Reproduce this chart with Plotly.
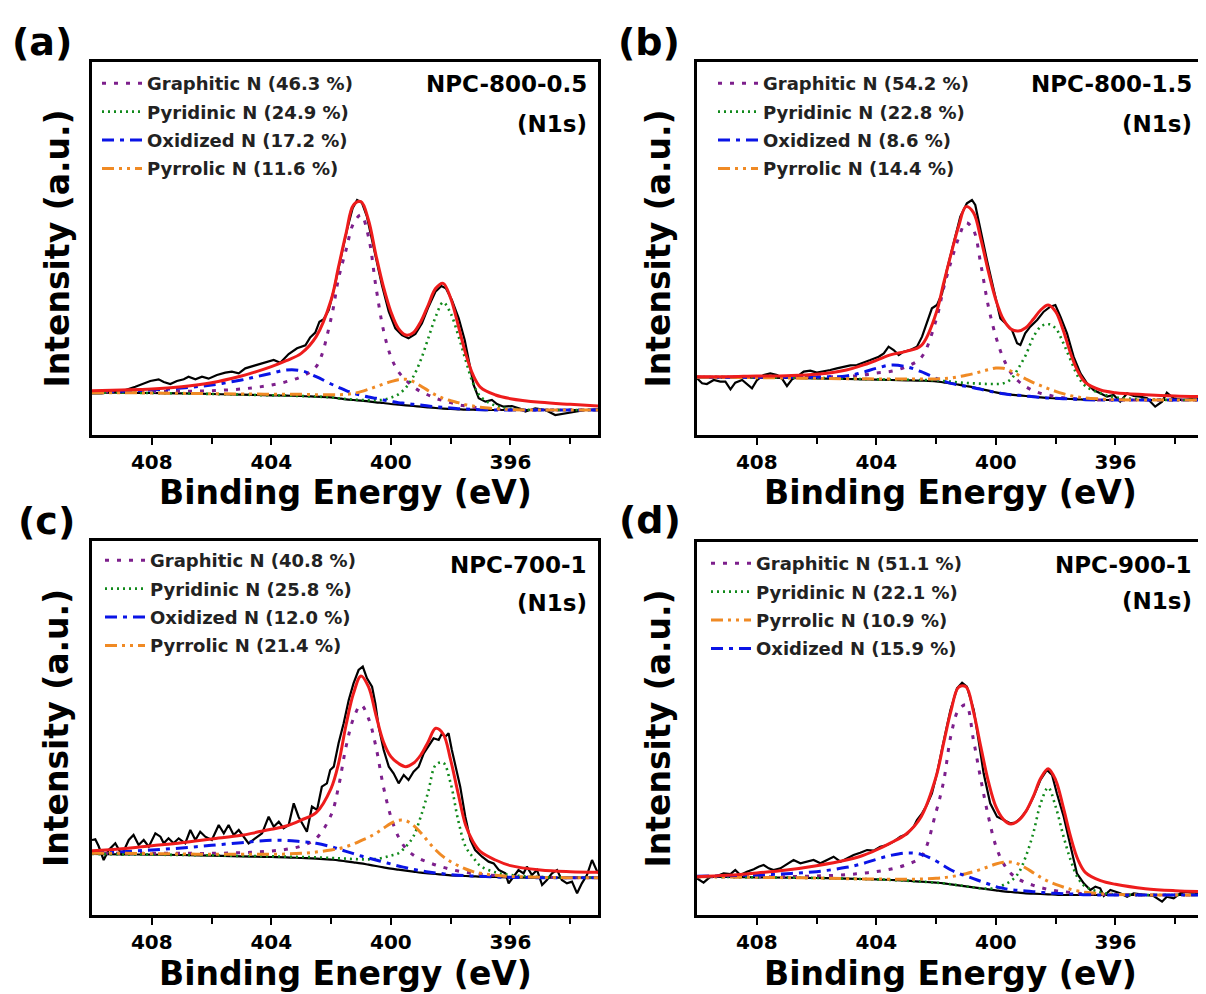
import plotly.graph_objects as go

# ---------------- data (binding energy in eV, intensity in a.u.) ----------------
E_GRID = [410, 409, 408, 407, 406, 405, 404.5, 404, 403.5, 403, 402.5, 402, 401.75, 401.5,
          401.25, 401, 400.75, 400.5, 400.25, 400, 399.75, 399.5, 399.25, 399, 398.75, 398.5,
          398.25, 398, 397.75, 397.5, 397.25, 397, 396.5, 396, 395, 394, 393]

# (a) NPC-800-0.5
a_base = [127, 127, 126, 125, 123, 121, 120, 119, 118, 117, 115, 113, 110, 107, 105, 103, 101, 98, 96, 93,
          91, 89, 87, 85, 83, 81, 79, 78, 77, 76, 76, 75, 75, 75, 75, 75, 75]
a_fit = [133, 135, 138, 145, 157, 177, 190, 205, 223, 245, 295, 405, 505, 605, 690, 700, 645, 540, 445, 370,
         320, 300, 307, 340, 390, 440, 455, 410, 330, 245, 180, 143, 120, 109, 98, 92, 87]
a_graphitic = [129, 129, 130, 131, 133, 138, 143, 150, 160, 175, 205, 350, 470, 555, 635, 660, 595, 445, 315, 235,
               190, 165, 145, 130, 120, 110, 103, 97, 91, 87, 83, 80, 77, 75, 75, 75, 75]
a_pyridinic = [127, 127, 126, 125, 123, 121, 120, 119, 118, 117, 115, 113, 110, 108, 106, 105, 104, 104, 106, 112,
               122, 142, 175, 225, 290, 355, 398, 365, 300, 225, 155, 115, 88, 79, 75, 75, 75]
a_oxidized = [129, 131, 135, 141, 150, 165, 175, 185, 195, 193, 175, 153, 143, 133, 125, 119, 114, 110, 105, 101,
              97, 95, 92, 90, 87, 85, 83, 81, 79, 78, 77, 76, 75, 75, 75, 75, 75]
a_pyrrolic = [127, 127, 126, 125, 124, 123, 123, 122, 122, 122, 121, 121, 121, 122, 125, 130, 137, 145, 153, 160,
              166, 167, 160, 147, 133, 120, 110, 103, 97, 91, 87, 83, 79, 76, 75, 75, 75]
a_exp_e = [410.00, 409.67, 409.33, 408.88, 408.55, 408.33, 408.05, 407.77, 407.60, 407.38, 407.16, 406.93, 406.77,
           406.54, 406.32, 406.10, 405.82, 405.54, 405.32, 405.09, 404.87, 404.54, 404.20, 403.92, 403.70, 403.42,
           403.14, 402.86, 402.70, 402.53, 402.39, 402.25, 402.08, 401.91, 401.69, 401.47, 401.28, 401.13, 400.97,
           400.80, 400.63, 400.47, 400.30, 400.07, 399.85, 399.63, 399.41, 399.18, 398.96, 398.74, 398.51, 398.31,
           398.16, 397.96, 397.73, 397.53, 397.38, 397.23, 397.06, 396.84, 396.62, 396.45, 396.23, 395.95, 395.67,
           395.50, 395.17, 394.83, 394.50, 394.16, 393.83, 393.49, 393.07]
a_exp_i = [125, 125, 130, 135, 145, 153, 162, 167, 159, 153, 162, 167, 175, 167, 175, 169, 180, 187, 190, 185,
           200, 209, 217, 225, 217, 243, 260, 269, 293, 307, 340, 347, 375, 435, 525, 615, 680, 705, 697, 655,
           585, 520, 450, 370, 320, 300, 290, 303, 335, 385, 430, 447, 440, 405, 350, 285, 215, 150, 110, 100,
           105, 93, 85, 87, 79, 70, 80, 75, 60, 65, 72, 75, 77]

# (b) NPC-800-1.5
b_base = [173, 173, 172, 171, 170, 168, 167, 166, 165, 164, 163, 161, 158, 155, 151, 147, 143, 138, 133, 128,
          124, 121, 119, 117, 115, 113, 111, 110, 109, 108, 107, 106, 105, 105, 105, 105, 105]
b_fit = [175, 175, 177, 178, 182, 195, 208, 224, 241, 251, 268, 365, 455, 543, 625, 685, 667, 587, 490, 405,
         347, 318, 312, 322, 347, 375, 390, 370, 315, 245, 190, 157, 135, 127, 121, 117, 115]
b_graphitic = [173, 173, 173, 173, 174, 176, 179, 186, 191, 205, 232, 345, 440, 520, 590, 637, 615, 510, 385, 295,
               230, 187, 162, 145, 133, 125, 120, 115, 112, 110, 108, 107, 105, 105, 105, 105, 105]
b_pyridinic = [174, 174, 173, 172, 171, 169, 168, 167, 166, 166, 165, 164, 162, 160, 158, 156, 155, 154, 153, 153,
               155, 167, 200, 240, 293, 325, 333, 320, 277, 225, 175, 147, 125, 113, 107, 105, 105]
b_oxidized = [173, 173, 173, 173, 174, 177, 187, 200, 210, 205, 190, 170, 162, 155, 150, 146, 142, 137, 132, 128,
              124, 121, 119, 117, 115, 113, 111, 110, 109, 108, 107, 106, 105, 105, 105, 105, 105]
b_pyrrolic = [173, 173, 172, 171, 170, 169, 169, 168, 168, 168, 168, 168, 169, 171, 175, 179, 184, 190, 196, 201,
              200, 192, 180, 168, 157, 148, 139, 131, 124, 118, 114, 111, 108, 106, 105, 105, 105]
b_exp_e = [410.00, 409.83, 409.67, 409.44, 409.22, 409.05, 408.88, 408.72, 408.49, 408.33, 408.16, 407.99, 407.77,
           407.55, 407.32, 407.16, 406.99, 406.82, 406.65, 406.43, 406.21, 405.99, 405.76, 405.54, 405.32, 405.09,
           404.87, 404.65, 404.42, 404.20, 403.92, 403.75, 403.59, 403.42, 403.25, 403.09, 402.86, 402.64, 402.47,
           402.31, 402.14, 401.97, 401.80, 401.64, 401.41, 401.19, 400.97, 400.80, 400.69, 400.52, 400.30, 400.07,
           399.85, 399.68, 399.46, 399.29, 399.18, 399.02, 398.85, 398.62, 398.40, 398.18, 398.01, 397.84, 397.62,
           397.40, 397.17, 396.95, 396.73, 396.51, 396.28, 396.06, 395.84, 395.61, 395.39, 395.17, 394.94, 394.67,
           394.44, 394.28, 394.05, 393.72, 393.38, 393.07]
b_exp_i = [170, 155, 153, 165, 160, 160, 137, 157, 165, 153, 140, 165, 180, 185, 180, 170, 147, 167, 175, 190,
           193, 187, 190, 195, 200, 205, 209, 210, 217, 225, 235, 245, 265, 255, 240, 250, 255, 265, 295, 335,
           380, 390, 425, 495, 575, 655, 695, 705, 690, 615, 525, 435, 350, 335, 315, 275, 270, 305, 325, 345,
           370, 385, 390, 355, 305, 235, 185, 155, 135, 125, 115, 120, 100, 125, 117, 115, 110, 85, 100, 127,
           110, 105, 110, 110]

# (c) NPC-700-1
c_base = [183, 182, 181, 180, 178, 176, 175, 174, 173, 171, 169, 166, 164, 161, 158, 155, 151, 147, 143, 139,
          136, 133, 130, 127, 125, 123, 121, 119, 118, 117, 116, 115, 114, 113, 112, 112, 112]
c_fit = [193, 199, 208, 217, 228, 239, 248, 257, 267, 285, 307, 380, 455, 570, 665, 717, 685, 600, 520, 475,
         455, 445, 455, 480, 520, 560, 543, 465, 365, 270, 220, 190, 165, 148, 135, 130, 128]
c_graphitic = [185, 185, 185, 185, 185, 187, 189, 192, 197, 207, 230, 300, 385, 505, 590, 630, 590, 505, 385, 295,
               235, 200, 180, 167, 158, 150, 143, 137, 132, 128, 125, 122, 118, 115, 113, 112, 112]
c_pyridinic = [183, 182, 181, 180, 179, 177, 177, 176, 175, 174, 173, 171, 170, 169, 168, 167, 167, 168, 172, 178,
               185, 205, 235, 295, 370, 450, 457, 395, 285, 205, 173, 147, 128, 120, 114, 112, 112]
c_oxidized = [187, 190, 195, 201, 209, 217, 221, 224, 224, 220, 215, 205, 198, 191, 184, 177, 171, 165, 159, 153,
              147, 142, 137, 133, 129, 126, 124, 121, 119, 118, 117, 116, 114, 113, 112, 112, 112]
c_pyrrolic = [185, 185, 184, 183, 182, 182, 182, 182, 183, 185, 189, 195, 199, 205, 213, 223, 233, 245, 260, 275,
              284, 283, 269, 247, 220, 195, 175, 160, 148, 138, 130, 125, 119, 116, 113, 112, 112]
c_exp_e = [410.00, 409.89, 409.78, 409.61, 409.44, 409.22, 409.00, 408.77, 408.61, 408.44,
           408.27, 408.10, 407.88, 407.71, 407.60, 407.44, 407.27, 407.10, 406.88, 406.71,
           406.54, 406.38, 406.21, 405.99, 405.76, 405.59, 405.43, 405.26, 405.09, 404.93,
           404.76, 404.54, 404.31, 404.09, 403.92, 403.75, 403.59, 403.42, 403.25, 403.09,
           402.92, 402.81, 402.64, 402.47, 402.31, 402.14, 402.03, 401.91, 401.75, 401.58,
           401.41, 401.25, 401.08, 400.94, 400.80, 400.63, 400.52, 400.41, 400.24, 400.07,
           399.91, 399.74, 399.57, 399.41, 399.24, 399.07, 398.90, 398.74, 398.57, 398.40,
           398.29, 398.18, 398.07, 397.96, 397.79, 397.68, 397.51, 397.34, 397.18, 396.95,
           396.73, 396.56, 396.39, 396.17, 396.06, 395.89, 395.73, 395.56, 395.45, 395.28,
           395.11, 394.94, 394.78, 394.61, 394.44, 394.28, 394.11, 393.94, 393.77, 393.61,
           393.44, 393.27, 393.07]
c_exp_i = [225, 227, 207, 165, 195, 215, 180, 225, 240, 210,
           225, 205, 245, 235, 215, 230, 215, 230, 215, 255,
           225, 250, 235, 225, 270, 245, 270, 240, 255, 235,
           215, 230, 245, 295, 265, 280, 260, 270, 335, 295,
           265, 250, 325, 315, 385, 395, 435, 445, 515, 575,
           645, 695, 735, 745, 710, 685, 635, 565, 495, 445,
           425, 395, 420, 405, 430, 445, 485, 505, 530, 525,
           545, 535, 545, 495, 425, 385, 295, 225, 195, 175,
           160, 155, 135, 125, 95, 115, 135, 125, 145, 120,
           135, 90, 105, 125, 135, 105, 95, 100, 65, 95,
           120, 165, 125]

# (d) NPC-900-1
d_base = [115, 114, 113, 112, 111, 109, 108, 107, 105, 103, 100, 97, 95, 92, 89, 86, 83, 80, 77, 74,
          71, 69, 67, 65, 64, 63, 62, 61, 60, 60, 60, 60, 60, 60, 60, 60, 60]
d_fit = [115, 119, 126, 135, 148, 165, 177, 195, 217, 243, 295, 415, 515, 613, 683, 685, 610, 503, 400, 325,
         287, 273, 283, 310, 355, 410, 439, 405, 325, 235, 165, 127, 103, 92, 79, 73, 70]
d_graphitic = [115, 115, 115, 115, 117, 121, 125, 130, 138, 151, 175, 310, 400, 540, 615, 630, 525, 405, 295, 207,
               155, 125, 108, 97, 89, 82, 77, 73, 70, 67, 65, 64, 62, 61, 60, 60, 60]
d_pyridinic = [115, 114, 113, 112, 111, 109, 108, 107, 105, 103, 100, 97, 95, 92, 89, 86, 83, 80, 79, 81,
               90, 102, 125, 175, 245, 335, 382, 325, 240, 165, 110, 85, 68, 62, 60, 60, 60]
d_pyrrolic = [115, 114, 113, 112, 111, 109, 108, 108, 107, 107, 108, 110, 112, 115, 119, 124, 130, 137, 145, 153,
              158, 159, 153, 141, 127, 113, 101, 92, 84, 77, 72, 68, 64, 62, 60, 60, 60]
d_oxidized = [116, 118, 120, 124, 130, 143, 153, 167, 179, 186, 182, 162, 148, 135, 125, 117, 109, 101, 93, 85,
              80, 76, 74, 72, 70, 68, 66, 65, 64, 63, 62, 61, 60, 60, 60, 60, 60]
d_exp_e = [410.00, 409.78, 409.55, 409.33, 409.11, 408.88, 408.72, 408.55, 408.33, 408.10,
           407.94, 407.77, 407.60, 407.44, 407.21, 406.99, 406.77, 406.54, 406.32, 406.10,
           405.87, 405.65, 405.43, 405.20, 404.98, 404.76, 404.54, 404.31, 404.09, 403.87,
           403.64, 403.42, 403.20, 402.97, 402.75, 402.64, 402.47, 402.31, 402.14, 401.97,
           401.75, 401.52, 401.30, 401.13, 400.97, 400.74, 400.58, 400.41, 400.19, 399.96,
           399.74, 399.52, 399.35, 399.18, 398.96, 398.74, 398.51, 398.29, 398.12, 397.96,
           397.73, 397.51, 397.29, 397.06, 396.84, 396.67, 396.51, 396.39, 396.17, 395.84,
           395.61, 395.39, 395.06, 394.72, 394.44, 394.28, 394.05, 393.83, 393.61, 393.38,
           393.07]
d_exp_i = [110, 97, 115, 117, 125, 123, 135, 120, 130, 137,
           145, 150, 140, 135, 140, 153, 165, 155, 160, 165,
           155, 165, 175, 160, 170, 180, 187, 195, 193, 205,
           210, 220, 235, 243, 265, 285, 305, 330, 365, 425,
           520, 615, 680, 697, 685, 615, 525, 425, 335, 295,
           285, 275, 277, 290, 315, 355, 405, 435, 420, 365,
           295, 205, 125, 95, 75, 85, 80, 57, 75, 65,
           55, 65, 60, 57, 40, 55, 50, 65, 70, 65,
           65]

PANEL_LABELS = ["(a)", "(b)", "(c)", "(d)"]
SAMPLES = ["NPC-800-0.5", "NPC-800-1.5", "NPC-700-1", "NPC-900-1"]
a_pct = {"Graphitic N": "46.3", "Pyridinic N": "24.9", "Oxidized N": "17.2", "Pyrrolic N": "11.6"}
b_pct = {"Graphitic N": "54.2", "Pyridinic N": "22.8", "Oxidized N": "8.6", "Pyrrolic N": "14.4"}
c_pct = {"Graphitic N": "40.8", "Pyridinic N": "25.8", "Oxidized N": "12.0", "Pyrrolic N": "21.4"}
d_pct = {"Graphitic N": "51.1", "Pyridinic N": "22.1", "Pyrrolic N": "10.9", "Oxidized N": "15.9"}
X_TICKS = [408, 404, 400, 396]
X_MINOR = [406, 402, 398, 394]
X_RANGE = [410, 393.07]

# ---------------- styling ----------------
# the page body has an 8 px margin, so the figure is drawn 8 px smaller on each side
OFF = 8
W, H = 1206 - OFF, 994 - OFF
FONT = "DejaVu Sans"
STYLE = {
    "Graphitic N": dict(color="#7d1f8c", dash="4px,8px", width=3),
    "Pyridinic N": dict(color="#118a1b", dash="2px,4px", width=2.6),
    "Oxidized N": dict(color="#0a14e6", dash="12px,6px,4px,6px", width=3),
    "Pyrrolic N": dict(color="#f08a24", dash="12px,5px,3px,5px,3px,5px", width=3),
}

panels = [
    dict(base=a_base, fit=a_fit, comps={"Graphitic N": a_graphitic, "Pyridinic N": a_pyridinic,
         "Oxidized N": a_oxidized, "Pyrrolic N": a_pyrrolic}, pct=a_pct, ee=a_exp_e, ei=a_exp_i,
         box=(92, 598, 62, 435), ymax=1119, label_xy=(42, 42), ttl_y=(84, 124), leg=(97, 65),
         ytitle_x=57, xtitle_y=493),
    dict(base=b_base, fit=b_fit, comps={"Graphitic N": b_graphitic, "Pyridinic N": b_pyridinic,
         "Oxidized N": b_oxidized, "Pyrrolic N": b_pyrrolic}, pct=b_pct, ee=b_exp_e, ei=b_exp_i,
         box=(697, 1203, 62, 435), ymax=1119, label_xy=(649, 42), ttl_y=(84, 124), leg=(713, 65),
         ytitle_x=658, xtitle_y=493),
    dict(base=c_base, fit=c_fit, comps={"Graphitic N": c_graphitic, "Pyridinic N": c_pyridinic,
         "Oxidized N": c_oxidized, "Pyrrolic N": c_pyrrolic}, pct=c_pct, ee=c_exp_e, ei=c_exp_i,
         box=(92, 598, 541, 915), ymax=1122, label_xy=(46, 521), ttl_y=(565, 603), leg=(100, 542),
         ytitle_x=56, xtitle_y=973),
    dict(base=d_base, fit=d_fit, comps={"Graphitic N": d_graphitic, "Pyridinic N": d_pyridinic,
         "Pyrrolic N": d_pyrrolic, "Oxidized N": d_oxidized}, pct=d_pct, ee=d_exp_e, ei=d_exp_i,
         box=(697, 1203, 542, 915), ymax=1119, label_xy=(650, 520), ttl_y=(565, 601), leg=(706, 545),
         ytitle_x=658, xtitle_y=973),
]


def fx(px):
    return (px - OFF) / W


def fy(py):
    return 1 - (py - OFF) / H


fig = go.Figure()
annotations = []
layout = dict(width=W, height=H, margin=dict(l=0, r=0, t=0, b=0), paper_bgcolor="white",
              plot_bgcolor="white", font=dict(family=FONT, color="black"), showlegend=True)

for i, p in enumerate(panels):
    n = i + 1
    sfx = "" if n == 1 else str(n)
    xa, ya, lg = "x" + sfx, "y" + sfx, "legend" + sfx
    # experimental spectrum
    fig.add_trace(go.Scatter(x=p["ee"], y=p["ei"], mode="lines", xaxis=xa, yaxis=ya, showlegend=False,
                             line=dict(color="black", width=2.2), hoverinfo="skip"))
    # background
    fig.add_trace(go.Scatter(x=E_GRID, y=p["base"], mode="lines", xaxis=xa, yaxis=ya, showlegend=False,
                             line=dict(color="black", width=2.2, shape="spline"), hoverinfo="skip"))
    # components
    for k, name in enumerate(p["comps"]):
        st = STYLE[name]
        fig.add_trace(go.Scatter(
            x=E_GRID, y=p["comps"][name], mode="lines", xaxis=xa, yaxis=ya, legend=lg,
            legendgroup=f"{n}-{k}", name=f"{name} ({p['pct'][name]} %)",
            line=dict(color=st["color"], dash=st["dash"], width=st["width"], shape="spline")))
    # fitted envelope
    fig.add_trace(go.Scatter(x=E_GRID, y=p["fit"], mode="lines", xaxis=xa, yaxis=ya, showlegend=False,
                             line=dict(color="#ee1c1c", width=3, shape="spline"), hoverinfo="skip"))

    x0, x1, y0, y1 = p["box"]
    layout["xaxis" + sfx] = dict(
        domain=[fx(x0), fx(x1)], anchor=ya, range=X_RANGE, showline=True, mirror=True,
        linecolor="black", linewidth=2.5, showgrid=False, zeroline=False, ticks="outside",
        tickvals=X_TICKS, ticklen=7, tickwidth=2, tickcolor="black", ticklabelstandoff=0,
        tickfont=dict(family=FONT, size=20, weight="bold", color="black"),
        minor=dict(tickvals=X_MINOR, ticks="outside", ticklen=6, tickwidth=2, tickcolor="black",
                   showgrid=False))
    layout["yaxis" + sfx] = dict(
        domain=[fy(y1), fy(y0)], anchor=xa, range=[0, p["ymax"]], showline=True, mirror=True,
        linecolor="black", linewidth=2.5, showgrid=False, zeroline=False, showticklabels=False,
        ticks="")
    layout[lg] = dict(x=fx(p["leg"][0]), y=fy(p["leg"][1]), xanchor="left", yanchor="top",
                      bgcolor="rgba(0,0,0,0)", borderwidth=0, tracegroupgap=2, itemwidth=40,
                      font=dict(family=FONT, size=18, weight="bold", color="#222"))

    # panel letter
    annotations.append(dict(text=PANEL_LABELS[i], x=fx(p["label_xy"][0]), y=fy(p["label_xy"][1]),
                            xref="paper", yref="paper", showarrow=False, xanchor="center",
                            yanchor="middle", font=dict(family=FONT, size=38, weight="bold")))
    # sample name and (N1s)
    annotations.append(dict(text=SAMPLES[i], x=fx(x1 - 9), y=fy(p["ttl_y"][0]), xref="paper", yref="paper",
                            showarrow=False, xanchor="right", yanchor="middle",
                            font=dict(family=FONT, size=23, weight="bold")))
    annotations.append(dict(text="(N1s)", x=fx(x1 - 9), y=fy(p["ttl_y"][1]), xref="paper", yref="paper",
                            showarrow=False, xanchor="right", yanchor="middle",
                            font=dict(family=FONT, size=23, weight="bold")))
    # axis titles
    annotations.append(dict(text="Binding Energy (eV)", x=fx((x0 + x1) / 2), y=fy(p["xtitle_y"]),
                            xref="paper", yref="paper", showarrow=False, xanchor="center",
                            yanchor="middle", font=dict(family=FONT, size=33, weight="bold")))
    annotations.append(dict(text="Intensity (a.u.)", x=fx(p["ytitle_x"]), y=fy((y0 + y1) / 2),
                            xref="paper", yref="paper", showarrow=False, xanchor="center",
                            yanchor="middle", textangle=-90,
                            font=dict(family=FONT, size=33, weight="bold")))

layout["annotations"] = annotations
fig.update_layout(**layout)
fig.write_html("out.html")
